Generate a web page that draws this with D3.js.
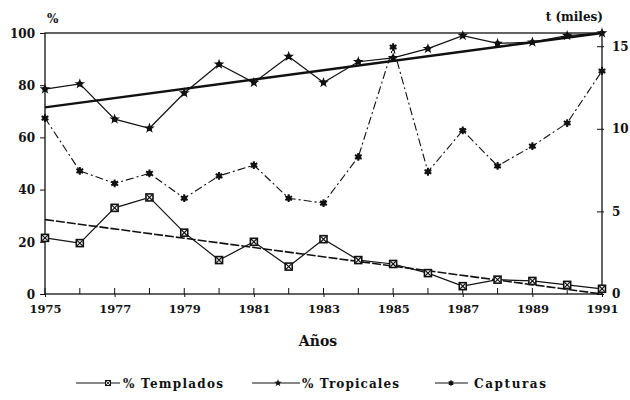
<!DOCTYPE html>
<html>
<head>
<meta charset="utf-8">
<style>
  body {margin: 0; background: #fff;}
  text {font-family: "DejaVu Serif"; font-weight: bold; fill: #111;}
</style>
<script src="https://d3js.org/d3.v7.min.js"></script>
</head>
<body>
<div id="chart"></div>
<script>

// years on the x axis
const years = d3.range(1975, 1992)
const yearLabels = [1975, 1977, 1979, 1981, 1983, 1985, 1987, 1989, 1991]

// % of catch
const templados = [21.5, 19.5, 33, 37, 23.5, 13, 20, 10.5, 21, 13, 11.5, 8, 3, 5.5, 5, 3.5, 2]
const tropicales = [78.5, 80.5, 67, 63.5, 77, 88, 81, 91, 81, 89, 90.5, 94, 99, 96, 96.5, 99, 100]
// catches, thousands of t (right axis)
const capturas = [10.65, 7.45, 6.7, 7.3, 5.8, 7.15, 7.8, 5.8, 5.5, 8.3, 14.95, 7.4, 9.9, 7.75, 8.95, 10.35, 13.5]

// trend lines (start / end values)
const trendTemplados = [28.5, 0]
const trendTropicales = [71.5, 100]

const leftTicks = [0, 20, 40, 60, 80, 100]
const rightTicks = [0, 5, 10, 15]

const width = 630, height = 400
const x0 = 45, x1 = 602, yTop = 33, yBot = 294

const svg = d3.select('#chart').append('svg')
  .attr('width', width)
  .attr('height', height)

const x = d3.scaleLinear().domain([1975, 1991]).range([x0, x1])
const y = d3.scaleLinear().domain([0, 100]).range([yBot, yTop])
const y2 = d3.scaleLinear().domain([0, 15.8]).range([yBot, yTop])

// frame
svg.append('rect')
  .attr('x', x0).attr('y', yTop)
  .attr('width', x1 - x0).attr('height', yBot - yTop)
  .attr('fill', 'none').attr('stroke', '#111').attr('stroke-width', 1.3)

// left axis
const leftAxis = svg.append('g')
  .attr('transform', `translate(${x0},0)`)
  .call(d3.axisLeft(y).tickValues(leftTicks).tickSize(5).tickPadding(5))
leftAxis.select('.domain').remove()
leftAxis.selectAll('text').style('font-size', '12px').attr('dy', '0.35em')

// right axis, ticks going in
const rightAxis = svg.append('g')
  .attr('transform', `translate(${x1},0)`)
  .call(d3.axisRight(y2).tickValues(rightTicks).tickSize(0).tickPadding(10))
rightAxis.select('.domain').remove()
rightAxis.selectAll('text').style('font-size', '12px')
rightAxis.selectAll('.tick').append('line')
  .attr('x1', -5).attr('x2', 2).attr('stroke', '#111')

// bottom axis, every year ticked upward
const bottomAxis = svg.append('g')
  .attr('transform', `translate(0,${yBot})`)
  .call(d3.axisBottom(x).tickValues(yearLabels).tickFormat(d3.format('d')).tickSize(3).tickPadding(8))
bottomAxis.select('.domain').remove()
bottomAxis.selectAll('text').style('font-size', '11.5px')
svg.append('g').selectAll('line')
  .data(years)
  .enter().append('line')
  .attr('x1', d => x(d)).attr('x2', d => x(d))
  .attr('y1', yBot).attr('y2', yBot - 6)
  .attr('stroke', '#111')
svg.selectAll('.tick line').attr('stroke', '#111')

// axis titles
svg.append('text').attr('x', 47).attr('y', 23).style('font-size', '12px').text('%')
svg.append('text').attr('x', 603).attr('y', 21).attr('text-anchor', 'end')
  .style('font-size', '12px').text('t (miles)')
svg.append('text').attr('x', 318).attr('y', 346).attr('text-anchor', 'middle')
  .style('font-size', '14px').text('Años')

// trend lines
const trend = (vals) => [[1975, vals[0]], [1991, vals[1]]]
const trendLine = d3.line().x(d => x(d[0])).y(d => y(d[1]))

svg.append('path')
  .attr('d', trendLine(trend(trendTropicales)))
  .attr('fill', 'none').attr('stroke', '#111').attr('stroke-width', 2.4)

svg.append('path')
  .attr('d', trendLine(trend(trendTemplados)))
  .attr('fill', 'none').attr('stroke', '#111').attr('stroke-width', 1.6)
  .attr('stroke-dasharray', '9,2')

// data lines
const pctLine = d3.line().x((d, i) => x(years[i])).y(d => y(d))
const capLine = d3.line().x((d, i) => x(years[i])).y(d => y2(d))

svg.append('path').attr('d', pctLine(tropicales))
  .attr('fill', 'none').attr('stroke', '#111').attr('stroke-width', 1.2)
svg.append('path').attr('d', pctLine(templados))
  .attr('fill', 'none').attr('stroke', '#111').attr('stroke-width', 1.2)
svg.append('path').attr('d', capLine(capturas))
  .attr('fill', 'none').attr('stroke', '#111').attr('stroke-width', 1.1)
  .attr('stroke-dasharray', '8,3,2,3')

// markers
function drawMarker(g, kind) {
  if (kind === 'templados') {
    g.append('rect').attr('x', -3.5).attr('y', -3.5).attr('width', 7).attr('height', 7)
      .attr('fill', '#fff').attr('stroke', '#111').attr('stroke-width', 1.6)
    g.append('path').attr('d', d3.symbol(d3.symbolTimes, 22)())
      .attr('stroke', '#111').attr('stroke-width', 1.2)
  } else if (kind === 'tropicales') {
    g.append('path').attr('d', d3.symbol(d3.symbolStar, 36)()).attr('fill', '#111')
    g.append('circle').attr('r', 2.6).attr('fill', '#111')
  } else {
    g.append('path').attr('d', d3.symbol(d3.symbolAsterisk, 42)())
      .attr('stroke', '#111').attr('stroke-width', 2)
    g.append('circle').attr('r', 2.6).attr('fill', '#111')
  }
}

function addMarkers(vals, scale, kind) {
  svg.append('g').selectAll('g')
    .data(vals)
    .enter().append('g')
    .attr('transform', (d, i) => `translate(${x(years[i])},${scale(d)})`)
    .each(function() { drawMarker(d3.select(this), kind) })
}
addMarkers(templados, y, 'templados')
addMarkers(tropicales, y, 'tropicales')
addMarkers(capturas, y2, 'capturas')

// legend
const legendItems = [
  {kind: 'templados', label: '% Templados', lx0: 76, lx1: 120, mx: 108, tx: 123, tw: 100},
  {kind: 'tropicales', label: '% Tropicales', lx0: 252, lx1: 300, mx: 278, tx: 302, tw: 97},
  {kind: 'capturas', label: 'Capturas', lx0: 435, lx1: 468, mx: 451, tx: 474, tw: 72}
]
const ly = 383
legendItems.forEach(it => {
  svg.append('line')
    .attr('x1', it.lx0).attr('x2', it.lx1).attr('y1', ly).attr('y2', ly)
    .attr('stroke', '#111').attr('stroke-width', 1.2)
  const g = svg.append('g').attr('transform', `translate(${it.mx},${ly}) scale(0.7)`)
  drawMarker(g, it.kind)
  svg.append('text')
    .attr('x', it.tx).attr('y', ly + 5)
    .attr('textLength', it.tw).attr('lengthAdjust', 'spacing')
    .style('font-size', '12px')
    .text(it.label)
})

</script>
</body>
</html>
